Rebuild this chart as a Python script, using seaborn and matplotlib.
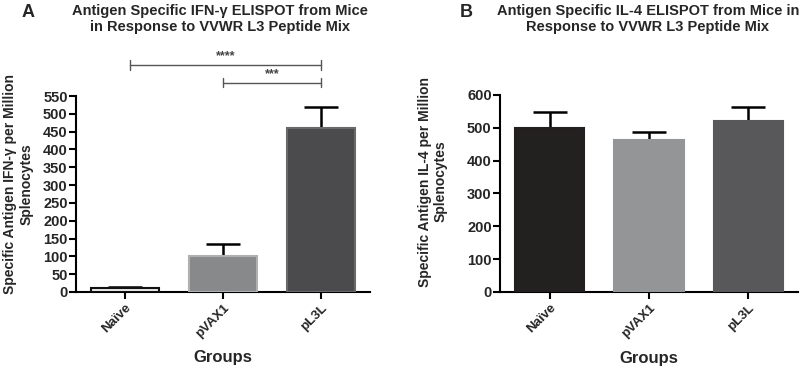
import matplotlib
matplotlib.use("Agg")
import matplotlib.pyplot as plt
import seaborn as sns
import pandas as pd

# data
groups = ["Naïve", "pVAX1", "pL3L"]
ifn_mean = [10, 100, 460]
ifn_err = [4, 35, 58]
il4_mean = [498, 463, 520]
il4_err = [49, 24, 43]

ifn_colors = ["#ececec", "#88898b", "#4b4b4d"]
ifn_edges = ["#111111", "#b0b0b2", "#6a6a6c"]
il4_colors = ["#231f20", "#939598", "#58585a"]

sns.set_style("ticks")
plt.rcParams["font.family"] = ["Liberation Sans", "DejaVu Sans"]
plt.rcParams["font.weight"] = "bold"

fig = plt.figure(figsize=(8, 3.67), dpi=100)
axA = fig.add_axes([0.095, 0.2044, 0.3675, 0.534])
axB = fig.add_axes([0.625, 0.2044, 0.3725, 0.537])

df_a = pd.DataFrame({"Group": groups, "Value": ifn_mean})
df_b = pd.DataFrame({"Group": groups, "Value": il4_mean})


def draw(ax, df, means, errs, colors, edges, ylim, step, ylabel, ylab_xy):
    sns.barplot(data=df, x="Group", y="Value", hue="Group", palette=colors,
                legend=False, errorbar=None, width=0.7, ax=ax, linewidth=1.5,
                zorder=3)
    for patch, ec in zip(ax.patches, edges):
        patch.set_edgecolor(ec)
    # upper-only error bars
    xs = list(range(len(means)))
    tops = [m + e for m, e in zip(means, errs)]
    ax.vlines(xs, means, tops, color="black", lw=1.8, zorder=2)
    ax.hlines(tops, [x - 0.17 for x in xs], [x + 0.17 for x in xs],
              color="black", lw=1.8, zorder=2)
    ax.set_xlim(-0.5, 2.5)
    ax.set_ylim(0, ylim)
    ax.set_yticks(range(0, ylim + 1, step))
    sns.despine(ax=ax)
    for s in ["left", "bottom"]:
        ax.spines[s].set_linewidth(1.5)
        ax.spines[s].set_color("black")
    ax.tick_params(axis="both", width=1.5, length=5, color="black")
    ax.tick_params(axis="y", labelsize=10.5, pad=1)
    ax.tick_params(axis="x", pad=2)
    ax.set_xticks(xs)
    ax.set_xticklabels(groups, rotation=45, ha="right", rotation_mode="anchor",
                       fontsize=9.5, fontweight="bold")
    for lab in ax.get_yticklabels():
        lab.set_fontweight("bold")
    ax.set_xlabel("Groups", fontsize=12, fontweight="bold")
    ax.xaxis.set_label_coords(0.5, -0.335)
    ax.xaxis.label.set_va("center")
    ax.set_ylabel(ylabel, fontsize=10, fontweight="bold")
    ax.yaxis.set_label_coords(*ylab_xy)


draw(axA, df_a, ifn_mean, ifn_err, ifn_colors, ifn_edges, 550, 50,
     "Specific Antigen IFN-γ per Million\nSplenocytes", (-0.145, 0.55))
draw(axB, df_b, il4_mean, il4_err, il4_colors, il4_colors, 600, 100,
     "Specific Antigen IL-4 per Million\nSplenocytes", (-0.175, 0.56))

# significance brackets in panel A
brackets = [(0.05, 2, 637, "****"), (1, 2, 587, "***")]
for x0, x1, y, txt in brackets:
    axA.plot([x0, x1], [y, y], color="#555555", lw=1, clip_on=False)
    for xx in (x0, x1):
        axA.plot([xx, xx], [y - 13, y + 13], color="#555555", lw=1, clip_on=False)
    axA.text((x0 + x1) / 2, y + 8, txt, ha="center", va="bottom", fontsize=9,
             color="#444444", clip_on=False)

fig.text(0.027, 0.99, "A", fontsize=13, fontweight="bold", va="top")
fig.text(0.275, 0.99, "Antigen Specific IFN-γ ELISPOT from Mice\nin Response to VVWR L3 Peptide Mix",
         fontsize=10.5, fontweight="bold", ha="center", va="top", linespacing=1.2)
fig.text(0.575, 0.99, "B", fontsize=13, fontweight="bold", va="top")
fig.text(0.81, 0.99, "Antigen Specific IL-4 ELISPOT from Mice in\nResponse to VVWR L3 Peptide Mix",
         fontsize=10.5, fontweight="bold", ha="center", va="top", linespacing=1.2)

fig.savefig("out.png", dpi=100)
